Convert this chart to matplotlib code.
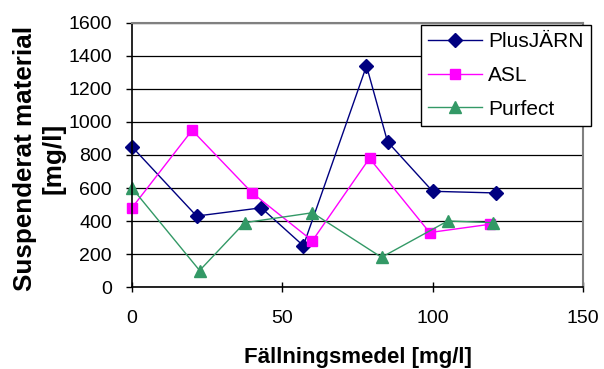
import matplotlib
matplotlib.use('Agg')
import matplotlib.pyplot as plt

plt.rcParams['font.family'] = ['Liberation Sans', 'DejaVu Sans']

# PlusJÄRN
plus_x = [0, 21.5, 43, 57, 78, 85, 100, 121]
plus_y = [850, 430, 480, 250, 1340, 880, 580, 570]
# ASL
asl_x = [0, 20, 40, 60, 79, 99, 119]
asl_y = [480, 950, 570, 280, 780, 330, 380]
# Purfect
purf_x = [0, 22.5, 37.5, 60, 83, 105, 120]
purf_y = [600, 100, 390, 450, 180, 400, 390]

fig = plt.figure(figsize=(6.04, 3.69), dpi=100)
ax = fig.add_axes([0.2185, 0.2222, 0.7467, 0.7155])

ax.plot(plus_x, plus_y, color='#000080', marker='D', markersize=7, lw=1, label='PlusJÄRN', clip_on=False)
ax.plot(asl_x, asl_y, color='#FF00FF', marker='s', markersize=7.5, lw=1, label='ASL', clip_on=False)
ax.plot(purf_x, purf_y, color='#339966', marker='^', markersize=8, lw=1, label='Purfect', clip_on=False)

ax.set_xlim(0, 150)
ax.set_ylim(0, 1600)
ax.set_xticks([0, 50, 100, 150])
ax.set_yticks(range(0, 1601, 200))
ax.yaxis.grid(True, color='black', lw=0.9)
ax.set_axisbelow(True)

ax.tick_params(axis='both', labelsize=14, width=1, color='black')
ax.tick_params(axis='x', direction='inout', length=7, pad=13)
ax.tick_params(axis='y', length=4.5, pad=10)

for side in ['top', 'right']:
    ax.spines[side].set_color('#808080')
    ax.spines[side].set_linewidth(1.5)
for side in ['left', 'bottom']:
    ax.spines[side].set_color('black')
    ax.spines[side].set_linewidth(1.2)

fig.text(357.5 / 604, 6 / 369, 'Fällningsmedel [mg/l]', fontsize=16, fontweight='bold',
         ha='center', va='baseline')
fig.text(39.5 / 604, 1 - 158 / 369, 'Suspenderat material\n[mg/l]', fontsize=18.7,
         fontweight='bold', rotation=90, ha='center', va='center',
         multialignment='center', linespacing=1.25)

leg = ax.legend(loc='upper right', bbox_to_anchor=(1.018, 0.992), fontsize=15,
                frameon=True, fancybox=False, borderpad=0.35, labelspacing=0.7,
                handlelength=2.6, handletextpad=0.3, borderaxespad=0)
leg.get_frame().set_edgecolor('black')
leg.get_frame().set_linewidth(1)
leg.get_frame().set_alpha(1)

fig.savefig('out.png', dpi=100)
